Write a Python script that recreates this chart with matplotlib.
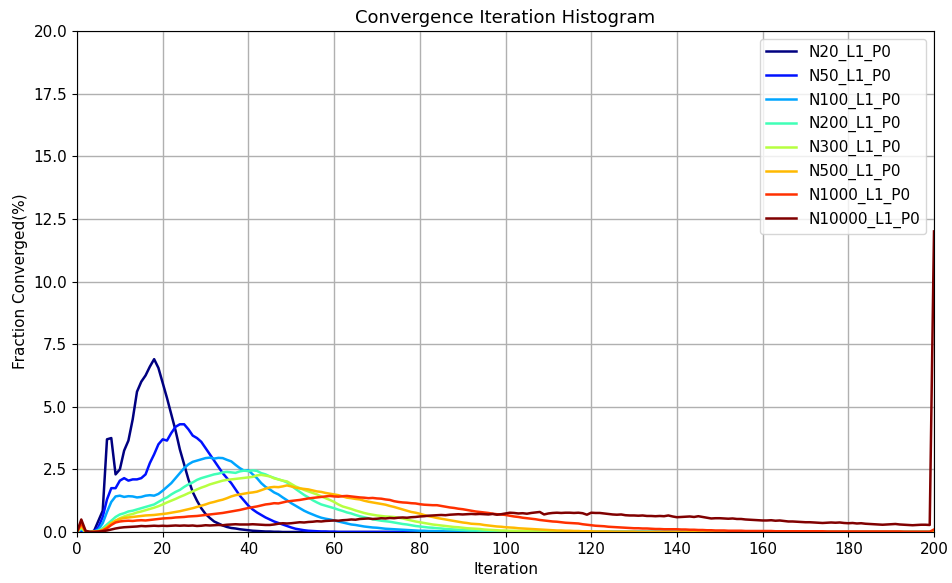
import numpy as np
import matplotlib
matplotlib.use("Agg")
import matplotlib.pyplot as plt

iterations = list(range(201))
labels = ["N20_L1_P0", "N50_L1_P0", "N100_L1_P0", "N200_L1_P0",
          "N300_L1_P0", "N500_L1_P0", "N1000_L1_P0", "N10000_L1_P0"]

n20 = [0, 0.02, 0, 0, 0.05, 0.45, 0.85, 3.7, 3.75, 2.3,
       2.5, 3.25, 3.65, 4.5, 5.6, 6.0, 6.25, 6.6, 6.9, 6.55,
       5.95, 5.35, 4.7, 4.05, 3.3, 2.7, 2.1, 1.6, 1.25, 0.95,
       0.72, 0.56, 0.42, 0.34, 0.26, 0.2, 0.16, 0.14, 0.11, 0.09,
       0.07, 0.05, 0.04, 0.03, 0.02, 0.02, 0.01, 0.01]
n50 = [0, 0.05, 0, 0, 0.02, 0.2, 0.6, 1.3, 1.75, 1.75,
       2.05, 2.15, 2.05, 2.1, 2.1, 2.15, 2.3, 2.75, 3.1, 3.5,
       3.7, 3.65, 3.95, 4.2, 4.3, 4.3, 4.1, 3.85, 3.75, 3.6,
       3.35, 3.1, 2.85, 2.6, 2.35, 2.15, 1.95, 1.7, 1.45, 1.25,
       1.05, 0.9, 0.78, 0.68, 0.58, 0.5, 0.42, 0.36, 0.3, 0.24,
       0.18, 0.13, 0.1, 0.07, 0.05, 0.04, 0.03, 0.02, 0.02, 0.01, 0.01]
n100 = [0, 0.1, 0, 0, 0.02, 0.1, 0.35, 0.8, 1.2, 1.42,
        1.45, 1.4, 1.43, 1.42, 1.38, 1.4, 1.45, 1.47, 1.45, 1.52,
        1.65, 1.8, 1.95, 2.15, 2.35, 2.55, 2.7, 2.8, 2.85, 2.9,
        2.95, 2.97, 2.93, 2.96, 2.95, 2.88, 2.82, 2.68, 2.55, 2.45,
        2.47, 2.3, 2.15, 1.95, 1.8, 1.7, 1.58, 1.5, 1.38, 1.27,
        1.15, 1.05, 0.95, 0.85, 0.77, 0.7, 0.63, 0.57, 0.53, 0.5,
        0.46, 0.42, 0.38, 0.34, 0.3, 0.28, 0.25, 0.22, 0.2, 0.18,
        0.17, 0.15, 0.13, 0.12, 0.11, 0.1, 0.09, 0.08, 0.07, 0.06,
        0.05, 0.05, 0.04, 0.04, 0.03, 0.03, 0.02, 0.02, 0.02, 0.01, 0.01]
n200 = [0, 0.15, 0, 0, 0.02, 0.05, 0.15, 0.3, 0.45, 0.6,
        0.7, 0.75, 0.82, 0.85, 0.9, 0.95, 1.0, 1.05, 1.1, 1.2,
        1.3, 1.38, 1.5, 1.6, 1.68, 1.8, 1.9, 1.98, 2.08, 2.15,
        2.2, 2.25, 2.3, 2.33, 2.38, 2.4, 2.38, 2.36, 2.42, 2.45,
        2.43, 2.46, 2.44, 2.35, 2.3, 2.22, 2.16, 2.1, 2.05, 1.98,
        1.85, 1.72, 1.6, 1.48, 1.38, 1.27, 1.18, 1.1, 1.05, 1.0,
        0.95, 0.89, 0.84, 0.78, 0.74, 0.68, 0.63, 0.59, 0.55, 0.51,
        0.48, 0.45, 0.43, 0.41, 0.38, 0.35, 0.32, 0.3, 0.27, 0.24,
        0.22, 0.2, 0.18, 0.17, 0.15, 0.14, 0.12, 0.11, 0.1, 0.09,
        0.08, 0.07, 0.06, 0.06, 0.05, 0.04, 0.04, 0.03, 0.03, 0.02,
        0.02, 0.02, 0.01, 0.01, 0.01, 0.01]
n300 = [0, 0.2, 0, 0, 0.02, 0.04, 0.1, 0.22, 0.35, 0.45,
        0.55, 0.62, 0.68, 0.72, 0.78, 0.82, 0.87, 0.92, 0.97, 1.03,
        1.1, 1.18, 1.25, 1.32, 1.4, 1.47, 1.55, 1.62, 1.7, 1.77,
        1.83, 1.9, 1.95, 2.0, 2.05, 2.08, 2.1, 2.12, 2.14, 2.16,
        2.18, 2.2, 2.26, 2.28, 2.25, 2.22, 2.14, 2.1, 2.05, 2.02,
        1.92, 1.82, 1.75, 1.68, 1.62, 1.56, 1.5, 1.42, 1.35, 1.28,
        1.2, 1.1, 1.02, 0.97, 0.92, 0.86, 0.81, 0.76, 0.72, 0.69,
        0.66, 0.64, 0.62, 0.61, 0.6, 0.57, 0.54, 0.5, 0.46, 0.42,
        0.39, 0.36, 0.33, 0.3, 0.28, 0.26, 0.24, 0.22, 0.2, 0.19,
        0.17, 0.15, 0.14, 0.13, 0.12, 0.1, 0.09, 0.08, 0.07, 0.06,
        0.06, 0.05, 0.05, 0.04, 0.04, 0.03, 0.03, 0.02, 0.02, 0.02,
        0.01, 0.01, 0.01, 0.01, 0.01, 0.01]
n500 = [0, 0.25, 0, 0, 0.01, 0.03, 0.08, 0.2, 0.35, 0.45,
        0.52, 0.56, 0.58, 0.6, 0.62, 0.64, 0.66, 0.67, 0.68, 0.7,
        0.72, 0.74, 0.77, 0.8, 0.83, 0.87, 0.91, 0.95, 1.0, 1.05,
        1.1, 1.16, 1.2, 1.25, 1.29, 1.35, 1.42, 1.47, 1.5, 1.53,
        1.56, 1.58, 1.61, 1.67, 1.73, 1.78, 1.8, 1.79, 1.82, 1.86,
        1.82, 1.77, 1.74, 1.72, 1.7, 1.66, 1.62, 1.6, 1.56, 1.53,
        1.5, 1.47, 1.42, 1.37, 1.35, 1.32, 1.3, 1.25, 1.21, 1.18,
        1.15, 1.12, 1.09, 1.04, 1.0, 0.95, 0.9, 0.85, 0.8, 0.77,
        0.73, 0.68, 0.63, 0.6, 0.56, 0.53, 0.5, 0.47, 0.44, 0.41,
        0.38, 0.36, 0.33, 0.32, 0.31, 0.28, 0.26, 0.24, 0.22, 0.21,
        0.19, 0.18, 0.17, 0.15, 0.14, 0.13, 0.12, 0.11, 0.1, 0.09,
        0.08, 0.07, 0.06, 0.06, 0.05, 0.05, 0.04, 0.04, 0.03, 0.03,
        0.03, 0.02, 0.02, 0.02, 0.02, 0.01, 0.01, 0.01, 0.01, 0.01, 0.01]
n1000 = [0, 0.35, 0.03, 0, 0.01, 0.02, 0.06, 0.15, 0.28, 0.38,
         0.42, 0.44, 0.45, 0.44, 0.46, 0.47, 0.46, 0.48, 0.5, 0.52,
         0.54, 0.55, 0.56, 0.58, 0.59, 0.6, 0.62, 0.63, 0.64, 0.66,
         0.68, 0.7, 0.72, 0.74, 0.76, 0.79, 0.82, 0.85, 0.88, 0.92,
         0.96, 0.99, 1.02, 1.06, 1.1, 1.12, 1.15, 1.14, 1.18, 1.22,
         1.24, 1.26, 1.28, 1.31, 1.34, 1.36, 1.38, 1.4, 1.42, 1.44,
         1.42, 1.41, 1.43, 1.44, 1.42, 1.4, 1.38, 1.37, 1.35, 1.36,
         1.34, 1.33, 1.3, 1.28, 1.23, 1.2, 1.18, 1.17, 1.15, 1.14,
         1.11, 1.09, 1.08, 1.07, 1.07, 1.04, 1.01, 0.98, 0.96, 0.93,
         0.91, 0.88, 0.85, 0.82, 0.8, 0.78, 0.76, 0.73, 0.71, 0.7,
         0.68, 0.65, 0.62, 0.6, 0.57, 0.55, 0.53, 0.51, 0.48, 0.46,
         0.44, 0.42, 0.41, 0.39, 0.37, 0.36, 0.35, 0.34, 0.31, 0.29,
         0.27, 0.25, 0.24, 0.23, 0.21, 0.2, 0.19, 0.18, 0.17, 0.16,
         0.15, 0.15, 0.14, 0.14, 0.13, 0.12, 0.12, 0.11, 0.11, 0.11,
         0.11, 0.1, 0.1, 0.09, 0.09, 0.08, 0.08, 0.07, 0.07, 0.06,
         0.06, 0.06, 0.05, 0.05, 0.05, 0.05, 0.04, 0.04, 0.04, 0.04,
         0.04, 0.04, 0.04, 0.03, 0.03, 0.03, 0.03, 0.03, 0.03, 0.03,
         0.03, 0.03, 0.03, 0.03, 0.03, 0.02, 0.02, 0.02, 0.02, 0.02,
         0.02, 0.02, 0.02, 0.02, 0.02, 0.02, 0.02, 0.02, 0.02, 0.02,
         0.02, 0.02, 0.02, 0.01, 0.01, 0.01, 0.01, 0.01, 0.01, 0.01,
         0.1]
n10000 = [0, 0.5, 0.05, 0, 0, 0.01, 0.03, 0.06, 0.1, 0.14,
          0.17, 0.19, 0.2, 0.21, 0.22, 0.24, 0.23, 0.24, 0.25, 0.24,
          0.25, 0.24, 0.25, 0.26, 0.25, 0.26, 0.25, 0.26, 0.24, 0.25,
          0.27, 0.26, 0.27, 0.28, 0.27, 0.29, 0.3, 0.31, 0.3, 0.3,
          0.3, 0.31, 0.3, 0.29, 0.28, 0.28, 0.3, 0.33, 0.35, 0.34,
          0.35, 0.37, 0.39, 0.38, 0.4, 0.41, 0.43, 0.42, 0.44, 0.45,
          0.46, 0.45, 0.47, 0.48, 0.5, 0.49, 0.52, 0.53, 0.54, 0.52,
          0.53, 0.55, 0.54, 0.56, 0.55, 0.57, 0.58, 0.57, 0.59, 0.6,
          0.62, 0.63, 0.65, 0.66, 0.67, 0.68, 0.67, 0.69, 0.7, 0.71,
          0.7, 0.71, 0.72, 0.71, 0.72, 0.71, 0.7, 0.72, 0.69, 0.71,
          0.74, 0.77, 0.76, 0.74, 0.75, 0.73, 0.76, 0.78, 0.8, 0.7,
          0.74, 0.76, 0.77, 0.76, 0.77, 0.77, 0.76, 0.77, 0.75, 0.69,
          0.77, 0.76, 0.76, 0.74, 0.72, 0.7, 0.69, 0.7, 0.67, 0.66,
          0.66, 0.65, 0.66, 0.64, 0.64, 0.63, 0.64, 0.63, 0.66, 0.62,
          0.59, 0.6, 0.61, 0.62, 0.6, 0.63, 0.6, 0.57, 0.54, 0.55,
          0.55, 0.54, 0.53, 0.54, 0.52, 0.52, 0.5, 0.49, 0.48, 0.47,
          0.46, 0.46, 0.47, 0.45, 0.46, 0.44, 0.42, 0.42, 0.41, 0.4,
          0.39, 0.39, 0.38, 0.37, 0.36, 0.37, 0.38, 0.37, 0.38, 0.36,
          0.35, 0.36, 0.34, 0.35, 0.33, 0.32, 0.31, 0.3, 0.29, 0.3,
          0.31, 0.32, 0.3, 0.29, 0.28, 0.27, 0.28, 0.29, 0.29, 0.28,
          12.0]

series = [n20, n50, n100, n200, n300, n500, n1000, n10000]


def pad(values):
    return list(values) + [0.0] * (len(iterations) - len(values))


colors = plt.cm.jet(np.linspace(0, 1, len(series)))

fig = plt.figure(figsize=(9.52, 5.83), dpi=100)
ax = fig.add_axes([77 / 952, 1 - 532 / 583, (934 - 77) / 952, (532 - 31) / 583])

for vals, lab, col in zip(series, labels, colors):
    ax.plot(iterations, pad(vals), color=col, lw=1.8, label=lab)

ax.set_xlim(0, 200)
ax.set_ylim(0, 20)
ax.set_xticks(np.arange(0, 201, 20))
ax.set_yticks(np.arange(0, 20.1, 2.5))
ax.grid(True, color="#b0b0b0", lw=1.0)
ax.set_axisbelow(True)
ax.tick_params(labelsize=11)
ax.set_title("Convergence Iteration Histogram", fontsize=13)
ax.set_xlabel("Iteration", fontsize=11)
ax.set_ylabel("Fraction Converged(%)", fontsize=11)
ax.legend(loc="upper right", fontsize=11, handlelength=2.0)

fig.savefig("out.png", dpi=100)
